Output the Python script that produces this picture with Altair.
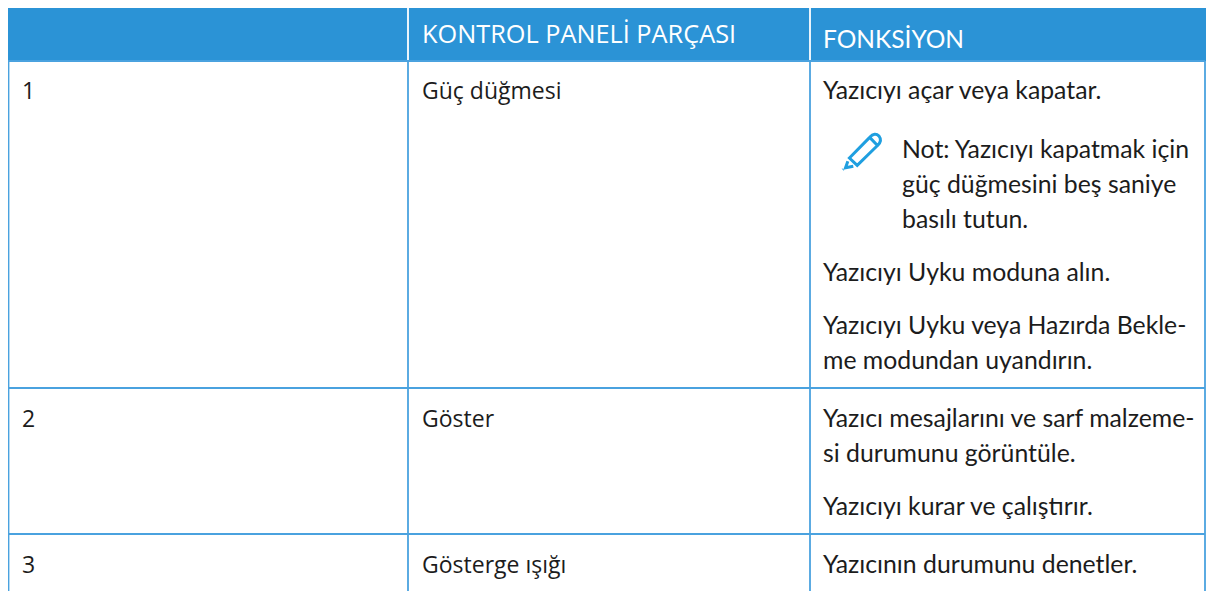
import altair as alt
import pandas as pd

# --- table content -------------------------------------------------------
header_parts = ["KONTROL PANELİ PARÇASI"]
header_functions = ["FONKSİYON"]
row_numbers = ["1", "2", "3"]
part_names = ["Güç düğmesi", "Göster", "Gösterge ışığı"]
function_lines = [
    "Yazıcıyı açar veya kapatar.",
    "Not: Yazıcıyı kapatmak için",
    "güç düğmesini beş saniye",
    "basılı tutun.",
    "Yazıcıyı Uyku moduna alın.",
    "Yazıcıyı Uyku veya Hazırda Bekle-",
    "me modundan uyandırın.",
    "Yazıcı mesajlarını ve sarf malzeme-",
    "si durumunu görüntüle.",
    "Yazıcıyı kurar ve çalıştırır.",
    "Yazıcının durumunu denetler.",
]

# --- layout, in reference-picture pixels ---------------------------------
X0, Y0, X1, Y1 = 8, 8, 1206, 591
col_edges = [8.5, 408, 810, 1205]
row_edges = [61, 388, 534]
row_base = [99, 427, 573]
row_x, part_x, func_x, note_x = 22, 422, 823, 902
func_base = [99, 158, 193, 228, 281, 334, 369, 427, 462, 515, 573]
func_xs = [func_x, note_x, note_x, note_x] + [func_x] * 7

BLUE = "#2b93d6"
LINE = "#4aa2df"
INK = "#1c1c1c"

x = alt.X("x:Q", axis=None, scale=alt.Scale(domain=[X0, X1], nice=False, zero=False))
y = alt.Y("y:Q", axis=None, scale=alt.Scale(domain=[Y0, Y1], nice=False, zero=False, reverse=True))

header = alt.Chart(pd.DataFrame({"x": [X0], "x2": [X1], "y": [Y0], "y2": [row_edges[0]]})).mark_rect(
    color=BLUE
).encode(x=x, x2="x2:Q", y=y, y2="y2:Q")

header_gaps = alt.Chart(pd.DataFrame({"x": col_edges[1:3], "y": [Y0, Y0], "y2": [row_edges[0], row_edges[0]]})).mark_rule(
    color="white", strokeWidth=1.8
).encode(x=x, y=y, y2="y2:Q")

vlines = alt.Chart(pd.DataFrame({"x": col_edges, "y": [row_edges[0]] * 4, "y2": [Y1] * 4})).mark_rule(
    color=LINE, strokeWidth=1.8
).encode(x=x, y=y, y2="y2:Q")

hlines = alt.Chart(pd.DataFrame({"x": [X0] * 3, "x2": [col_edges[3]] * 3, "y": row_edges})).mark_rule(
    color=LINE, strokeWidth=1.8
).encode(x=x, x2="x2:Q", y=y)

head_left = alt.Chart(pd.DataFrame({"x": [part_x], "y": [43], "t": header_parts})).mark_text(
    align="left", baseline="alphabetic", font="Open Sans", fontSize=25.3, color="white"
).encode(x=x, y=y, text="t:N")

head_right = alt.Chart(pd.DataFrame({"x": [func_x], "y": [48], "t": header_functions})).mark_text(
    align="left", baseline="alphabetic", font="Lato", fontSize=24.5, color="white"
).encode(x=x, y=y, text="t:N")

numbers = alt.Chart(pd.DataFrame({"x": [row_x] * 3, "y": row_base, "t": row_numbers})).mark_text(
    align="left", baseline="alphabetic", font="Open Sans", fontSize=23, color=INK
).encode(x=x, y=y, text="t:N")

parts = alt.Chart(pd.DataFrame({"x": [part_x] * 3, "y": row_base, "t": part_names})).mark_text(
    align="left", baseline="alphabetic", font="Open Sans", fontSize=23, color=INK
).encode(x=x, y=y, text="t:N")

funcs = alt.Chart(pd.DataFrame({"x": func_xs, "y": func_base, "t": function_lines})).mark_text(
    align="left", baseline="alphabetic", font="Lato", fontSize=24.8, color=INK
).encode(x=x, y=y, text="t:N")

PENCIL = (
    "M-0.62,0.36 L0.42,-0.7 Q0.68,-0.98 0.9,-0.76 Q1.08,-0.52 0.82,-0.28 L-0.22,0.74 Z "
    "M0.42,-0.7 L0.82,-0.28 M-0.7,0.52 L-0.82,0.86 L-0.42,0.78 "
    "M-0.96,0.96 L-0.94,0.94"
)
pencil = alt.Chart(pd.DataFrame({"x": [861.5], "y": [151]})).mark_point(
    shape=PENCIL, size=1521, filled=False, stroke="#1f9fe0", strokeWidth=3, opacity=1
).encode(x=x, y=y)

chart = alt.layer(
    header, header_gaps, vlines, hlines, head_left, head_right, numbers, parts, funcs, pencil
).properties(
    width=X1 - X0, height=Y1 - Y0, padding=0, autosize=alt.AutoSizeParams(type="none")
).configure_view(stroke=None)

chart.save("out.html", embed_options={"renderer": "svg", "actions": False})
